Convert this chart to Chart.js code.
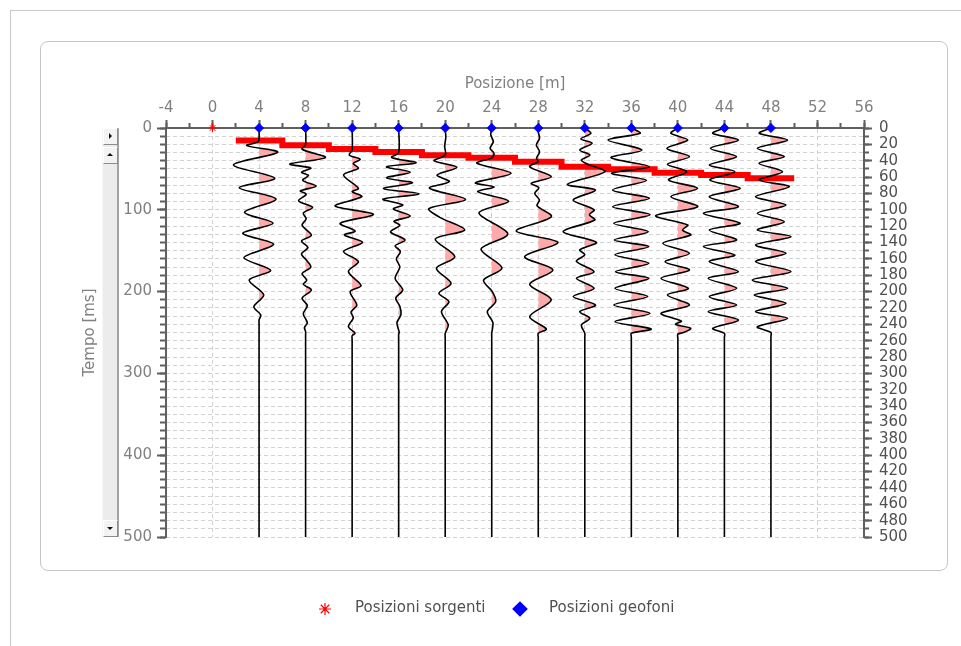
<!DOCTYPE html>
<html>
<head>
<meta charset="utf-8">
<script src="https://cdn.jsdelivr.net/npm/chart.js@4.4.0/dist/chart.umd.min.js"></script>
<style>
  html, body { margin: 0; padding: 0; background: #fff; }
  #page { position: relative; width: 961px; height: 646px; overflow: hidden; }
  #edge { position: absolute; left: 10px; top: 10px; width: 960px; height: 640px;
          border-top: 1px solid #c9c9c9; border-left: 1px solid #c9c9c9; }
  #box { position: absolute; left: 40px; top: 41px; width: 906px; height: 528px;
         border: 1px solid #c6c6c6; border-radius: 8px; }
  canvas { position: absolute; left: 0; top: 0; }
  #sb { position: absolute; left: 102px; top: 128px; width: 17px; height: 409px; box-sizing: border-box;
        background: #ececec; border-left: 1px solid #f7f7f7; border-right: 2px solid #a3a3a3; }
  .btn { position: absolute; left: 0; width: 15px; height: 17px; box-sizing: border-box; background: #f3f3f3;
         border: 1px solid; border-color: #ffffff #8c8c8c #8c8c8c #ffffff; }
  .tri { position: absolute; width: 0; height: 0; }
  .tri.r { left: 5px; top: 4px; border-top: 3px solid transparent; border-bottom: 3px solid transparent; border-left: 3px solid #111; }
  .tri.u { left: 3px; top: 5px; border-left: 3px solid transparent; border-right: 3px solid transparent; border-bottom: 3px solid #111; }
  .tri.d { left: 3px; top: 6px; border-left: 3px solid transparent; border-right: 3px solid transparent; border-top: 3px solid #111; }
</style>
</head>
<body>
<div id="page">
  <div id="edge"></div>
  <div id="box"></div>
  <canvas id="seismo" width="961" height="646"></canvas>
  <div id="sb">
    <div class="btn" style="top:0"><span class="tri r"></span></div>
    <div class="btn" style="top:19px"><span class="tri u"></span></div>
    <div class="btn" style="bottom:0"><span class="tri d"></span></div>
  </div>
</div>
<script>
// posizioni [m]
const sourcePositions = [0];
const geophonePositions = [4, 8, 12, 16, 20, 24, 28, 32, 36, 40, 44, 48];

// primi arrivi (picking), gradini di 4 m
const firstBreakPositions = [2, 6, 10, 14, 18, 22, 26, 30, 34, 38, 42, 46, 50];
const firstBreakTimes = [15.2, 21.2, 25.7, 29.3, 33.2, 36.5, 41.2, 47.3, 50.5, 54.6, 57.5, 61.5, 61.5];

// tracce: [tempo ms, ampiezza m]
const trace04 = [[0,0],[13,0],[17,-0.1],[21.5,-1.05],[29.7,1.6],[45,-2.2],[61.5,1.35],[73,-1.7],[86.8,1.45],[103,-1.25],[116.5,1.2],[128.8,-1.4],[142.2,1.25],[158.5,-1.3],[174,1.0],[185.8,-0.85],[204,0.4],[218.4,-0.45],[228.6,0.15],[234.7,0],[240,0],[500,0]];
const trace08 = [[0,0],[20,0],[26,-0.3],[36,1.7],[44,-1.35],[49,0.45],[54,-0.35],[58,0.25],[64,-0.25],[71,0.9],[77,-0.45],[81,0.05],[89,-0.6],[97,0.6],[104,-0.2],[111,0.05],[119,-0.3],[131,0.5],[138,-0.35],[146,0.2],[154,-0.35],[162,0.1],[170,0.45],[178,-0.3],[186,0.1],[191,-0.2],[198,0.5],[208,-0.3],[217,0.15],[227,-0.2],[238,0.15],[244,-0.1],[249,0],[254,0],[500,0]];
const trace12 = [[0,0],[27,0],[33,-0.26],[38.3,0.69],[43.2,0.1],[49.3,0.54],[57.5,-0.74],[73.8,0.54],[77.8,0],[84,0.83],[95.4,-1.46],[105.5,1.83],[116.5,-1.03],[126,0.26],[130.8,-0.66],[139.8,0.89],[151,-0.74],[163.4,0.54],[175.6,-0.32],[192.7,0.77],[200,-0.17],[216.4,0.4],[225,-0.1],[232,0.1],[242.9,-0.32],[251,0.25],[254,0],[259,0],[500,0]];
const trace16 = [[0,0],[30,0],[36,-0.6],[42.5,1.5],[47.5,-1.05],[54,1.0],[61,-1.05],[67,1.2],[74,-1.3],[80.5,1.75],[87,-1.35],[94,0.35],[99,-0.45],[107.5,1.0],[114,-0.4],[119,0.1],[127,-0.7],[137,0.55],[144,-0.3],[151,0.15],[160,-0.2],[170,0.1],[184,-0.3],[198,0.35],[208,-0.25],[218,0.1],[228,0.2],[238,-0.15],[250,0.05],[252,0],[257,0],[500,0]];
const trace20 = [[0,0],[12,0.05],[22,-0.05],[33,0],[40,-0.95],[48,1.0],[57.5,-0.7],[65.5,0.35],[73.5,-1.35],[87.5,1.75],[98.5,-1.4],[109,-0.5],[124.7,1.68],[135.7,-0.85],[157.3,0.83],[171.6,-0.75],[190,0.5],[202,-0.54],[212.3,0.32],[224.5,-0.32],[240.8,0.26],[251,0],[256,0],[500,0]];
const trace24 = [[0,0],[8.5,-0.08],[16.7,0.14],[24.9,-0.14],[31,0.2],[36.5,0],[43,-1.28],[55.4,1.66],[67,-1.4],[72,0.2],[78,-1.2],[89.5,1.45],[104,-1.1],[129.5,1.38],[148,-0.92],[171,0.88],[186,-0.7],[200,0.05],[212.3,0.34],[224.5,-0.38],[238,0.1],[251,0],[256,0],[500,0]];
const trace28 = [[0,0],[5,0],[12.6,0.11],[20.8,-0.17],[29,0.11],[37,-0.15],[41,0],[47.3,-0.74],[59.5,1.12],[67.6,-0.6],[73,0.05],[80,-0.3],[88,0.1],[95,-0.1],[108.4,1.12],[126,-1.89],[139.8,1.69],[157.3,-1.17],[173.6,1.26],[191,-0.74],[210,1.12],[230.6,-0.74],[245.7,0.69],[251,0],[256,0],[500,0]];
const trace32 = [[0,0],[6.5,0.52],[13.4,-0.34],[18.7,0.63],[27,-0.43],[33,0.43],[39,-0.29],[44,0.2],[53.4,1.72],[68.9,-1.49],[75.8,0.92],[88,-1.0],[100,0.8],[106,0.4],[112.5,0.86],[126.7,-1.86],[139.8,1.0],[149,-0.43],[155,0.0],[163,-0.72],[175.6,0.8],[183.8,-0.72],[196,0.8],[206,-1.0],[216.4,0.92],[224.5,-0.43],[232.7,0.43],[240.8,-0.29],[251,0],[256,0],[500,0]];
const trace36 = [[0,0],[6.5,0.75],[14.7,-2.0],[26.9,0.9],[36.3,-1.75],[47.3,1.55],[55.4,-1.7],[64,1.3],[75.8,-1.6],[86,1.55],[96.2,-1.6],[106,1.6],[116.5,-1.5],[126.7,1.45],[137,-1.45],[145,1.5],[155,-1.4],[165.4,1.5],[175.6,-1.35],[183.8,1.5],[196,-1.4],[206,1.4],[216.4,-1.5],[226.6,1.6],[236.8,-1.4],[245.7,1.7],[251,0],[256,0],[500,0]];
const trace40 = [[0,0],[6.5,-0.6],[14.7,0.85],[24.9,-0.95],[35,1.0],[44.4,-0.9],[53.4,0.75],[63.6,-0.8],[73.8,1.7],[84,-0.6],[96.2,1.7],[107.2,-1.9],[118.6,0.85],[124.7,0.4],[130.8,1.1],[141,-1.3],[153.2,1.0],[163.4,-1.1],[173.6,1.0],[183.8,-1.45],[196,0.9],[204.2,-0.9],[216.4,1.0],[226.6,-1.45],[236,0.3],[240,-0.2],[245,1.1],[250,0.5],[252,0],[257,0],[500,0]];
const trace44 = [[0,0],[6.5,-1.0],[14.7,1.2],[24.9,-1.2],[35,1.05],[45.2,-1.3],[53.4,0.9],[63.6,-1.25],[73.8,1.35],[84,-1.3],[96.2,1.2],[104.3,-1.8],[116.5,1.35],[124.7,-1.3],[137,1.05],[145,-1.8],[155.3,0.9],[163.4,-1.3],[175.6,1.2],[183.8,-1.4],[196,1.05],[206.2,-1.3],[216.4,1.05],[224.5,-1.4],[234.7,1.2],[244.9,-1.0],[251,0],[256,0],[500,0]];
const trace48 = [[0,0],[6.5,-1.0],[14.7,1.43],[24.9,-1.17],[35,1.15],[43.2,-1.03],[53.4,1.0],[63.6,-1.03],[71.7,1.58],[84,-1.32],[94.1,1.29],[104.3,-1.17],[114.5,1.15],[124.7,-1.17],[132.8,1.72],[143,-1.32],[153.2,1.29],[163.4,-1.32],[175.6,1.72],[185.8,-1.6],[196,1.43],[204.2,-1.43],[214.3,1.29],[224.5,-1.32],[232.7,1.43],[243,-1.17],[250,0],[255,0],[500,0]];

const traces = [trace04, trace08, trace12, trace16, trace20, trace24, trace28, trace32, trace36, trace40, trace44, trace48];

Chart.defaults.font.family = "'DejaVu Sans', Verdana, sans-serif";
Chart.defaults.font.size = 15;

const GRID = "#d2d2d2";
const AXIS = "#5f5f5f";
const LABEL = "#808080";
const PINK = "#ffaaaa";

// riempimento dei lobi positivi, a destra della posizione del geofono
const positiveFill = {
  id: "positiveFill",
  beforeDatasetsDraw(chart) {
    const { ctx, chartArea } = chart;
    const xs = chart.scales.x;
    chart.data.datasets.forEach((ds, i) => {
      if (ds.geophone === undefined) return;
      const line = chart.getDatasetMeta(i).dataset;
      if (!line || !line.points.length) return;
      line.updateControlPoints(chartArea, "y");
      const bx = xs.getPixelForValue(ds.geophone);
      const pts = line.points;
      ctx.save();
      ctx.beginPath();
      ctx.rect(bx, chartArea.top, xs.getPixelForValue(ds.geophone + 4) - bx, chartArea.height);
      ctx.clip();
      ctx.beginPath();
      line.path(ctx);
      ctx.lineTo(bx, pts[pts.length - 1].y);
      ctx.lineTo(bx, pts[0].y);
      ctx.closePath();
      ctx.fillStyle = PINK;
      ctx.fill();
      ctx.restore();
    });
  },
};

// legenda sotto il riquadro
const bottomLegend = {
  id: "bottomLegend",
  afterDraw(chart) {
    const ctx = chart.ctx;
    const items = chart.data.datasets.filter(d => d.legendX !== undefined);
    ctx.save();
    ctx.font = "15px 'DejaVu Sans', Verdana, sans-serif";
    ctx.textBaseline = "middle";
    items.forEach(d => {
      ctx.strokeStyle = d.borderColor;
      ctx.fillStyle = d.backgroundColor;
      ctx.lineWidth = 1.2;
      Chart.helpers.drawPoint(ctx, { pointStyle: d.pointStyle, radius: d.legendRadius, borderWidth: 1.2, rotation: 0 }, d.legendX, 609);
      ctx.fillStyle = "#505050";
      ctx.fillText(d.label, d.legendX + d.legendGap, 608);
    });
    ctx.restore();
  },
};

const traceDatasets = geophonePositions.map((pos, i) => ({
  label: "Traccia " + pos,
  geophone: pos,
  data: traces[i].map(([t, a]) => ({ x: pos + a, y: t })),
  indexAxis: "y",
  xAxisID: "x",
  yAxisID: "y",
  borderColor: "#000",
  borderWidth: 1.6,
  pointRadius: 0,
  tension: 0.3,
  fill: false,
  order: 1,
}));

new Chart(document.getElementById("seismo"), {
  type: "line",
  data: {
    datasets: [
      {
        label: "Posizioni sorgenti",
        data: sourcePositions.map(p => ({ x: p, y: 0 })),
        xAxisID: "x", yAxisID: "y",
        showLine: false,
        pointStyle: "star",
        pointRadius: 4,
        borderColor: "#ff0000",
        backgroundColor: "#ff0000",
        pointBorderWidth: 1,
        clip: false,
        order: 0,
        legendX: 325, legendGap: 30, legendRadius: 6,
      },
      {
        label: "Posizioni geofoni",
        data: geophonePositions.map(p => ({ x: p, y: 0 })),
        xAxisID: "x", yAxisID: "y",
        showLine: false,
        pointStyle: "rectRot",
        pointRadius: 4.5,
        borderColor: "#0000ff",
        backgroundColor: "#0000ff",
        pointBorderWidth: 1,
        clip: false,
        order: 0,
        legendX: 520, legendGap: 29, legendRadius: 7,
      },
      {
        label: "Primi arrivi",
        data: firstBreakPositions.map((p, i) => ({ x: p, y: firstBreakTimes[i] })),
        xAxisID: "x", yAxisID: "y",
        stepped: true,
        borderColor: "#ff0000",
        borderWidth: 6,
        borderJoinStyle: "miter",
        pointRadius: 0,
        fill: false,
        order: 2,
      },
      ...traceDatasets,
    ],
  },
  options: {
    responsive: false,
    animation: false,
    devicePixelRatio: 1,
    events: [],
    layout: { padding: { left: 70, right: 40, top: 70, bottom: 109 } },
    plugins: { legend: { display: false }, tooltip: { enabled: false } },
    scales: {
      yGrid: {
        type: "linear", position: "left", weight: 0, reverse: true, min: 0, max: 500,
        ticks: { display: false, stepSize: 10 },
        grid: { color: GRID, lineWidth: 1, tickLength: 6, tickColor: AXIS, tickWidth: 2 },
        border: { display: false, dash: [4, 3] },
        afterFit: s => { s.width = 0; },
      },
      xMinor: {
        type: "linear", position: "top", weight: 0, min: -4, max: 56,
        ticks: { display: false, stepSize: 2 },
        grid: { drawOnChartArea: false, tickLength: 5, tickColor: AXIS, tickWidth: 2 },
        border: { display: false },
        afterFit: s => { s.height = 0; },
      },
      yMinorR: {
        type: "linear", position: "right", weight: 0, reverse: true, min: 0, max: 500,
        ticks: { display: false, stepSize: 10 },
        grid: { drawOnChartArea: false, tickLength: 5, tickColor: AXIS, tickWidth: 2 },
        border: { display: false },
        afterFit: s => { s.width = 0; },
      },
      x: {
        type: "linear", position: "top", weight: 1, min: -4, max: 56,
        ticks: { stepSize: 4, color: LABEL, padding: 3, autoSkip: false, maxRotation: 0 },
        grid: {
          color: c => (c.tick && (c.tick.value <= -4 || c.tick.value >= 56)) ? "rgba(0,0,0,0)" : GRID,
          tickLength: 8, tickColor: AXIS, tickWidth: 2,
        },
        border: { display: true, color: AXIS, width: 2, dash: [4, 3] },
        title: { display: true, text: "Posizione [m]", color: LABEL, padding: { top: 5, bottom: 0 } },
        afterFit: s => { s.height = 58; },
      },
      y: {
        type: "linear", position: "left", weight: 1, reverse: true, min: 0, max: 500,
        ticks: { stepSize: 100, color: LABEL, padding: 5 },
        grid: { drawOnChartArea: false, tickLength: 9, tickColor: AXIS, tickWidth: 2 },
        border: { display: true, color: AXIS, width: 2 },
        title: { display: true, text: "Tempo [ms]", color: LABEL, padding: { top: 11, bottom: 0 } },
        afterFit: s => { s.width = 96; },
      },
      yRight: {
        type: "linear", position: "right", weight: 1, reverse: true, min: 0, max: 500,
        ticks: { stepSize: 20, color: "#505050", padding: 7, autoSkip: false },
        grid: { drawOnChartArea: false, tickLength: 8, tickColor: AXIS, tickWidth: 2 },
        border: { display: true, color: AXIS, width: 2 },
        afterFit: s => { s.width = 57; },
      },
    },
  },
  plugins: [positiveFill, bottomLegend],
});
</script>
</body>
</html>
